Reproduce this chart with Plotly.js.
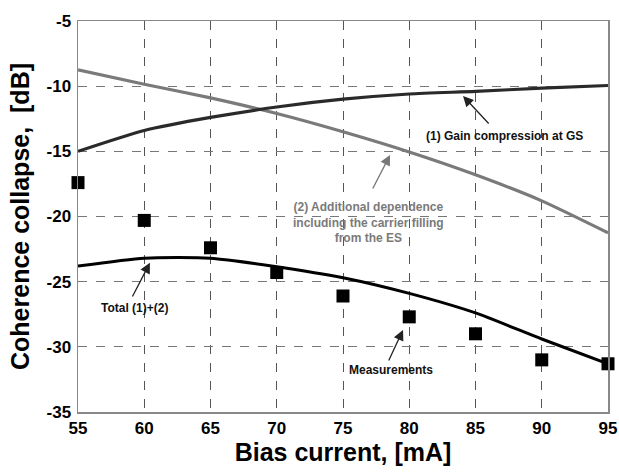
<!DOCTYPE html>
<html>
<head>
<meta charset="utf-8">
<script src="https://cdn.plot.ly/plotly-3.0.1.min.js"></script>
<style>html,body{margin:0;padding:0;background:#fff;}#chart{width:619px;height:472px;}</style>
</head>
<body>
<div id="chart"></div>
<script>
const biasCurrent = [55, 60, 65, 70, 75, 80, 85, 90, 95];
const measurements = [-17.4, -20.3, -22.4, -24.3, -26.1, -27.7, -29.0, -31.0, -31.3];
const gainCompression = [-15.0, -13.4, -12.4, -11.6, -11.0, -10.6, -10.4, -10.15, -9.95];
const carrierFilling = [-8.75, -9.85, -10.9, -12.1, -13.5, -15.05, -16.8, -18.8, -21.25];
const totalModel = [-23.8, -23.2, -23.2, -23.85, -24.7, -25.9, -27.4, -29.4, -31.3];
const xTicks = [55, 60, 65, 70, 75, 80, 85, 90, 95];
const yTicks = [-35, -30, -25, -20, -15, -10, -5];

const font = 'Liberation Sans, Arial, sans-serif';

const traces = [
  {x: biasCurrent, y: carrierFilling, mode: 'lines', line: {color: '#7a7a7a', width: 3.2, shape: 'spline', smoothing: 0.6}, name: '(2)', cliponaxis: false},
  {x: biasCurrent, y: gainCompression, mode: 'lines', line: {color: '#2a2a2a', width: 3.2, shape: 'spline', smoothing: 0.6}, name: '(1)', cliponaxis: false},
  {x: biasCurrent, y: totalModel, mode: 'lines', line: {color: '#000', width: 3, shape: 'spline', smoothing: 0.6}, name: 'Total', cliponaxis: false},
  {x: biasCurrent, y: measurements, mode: 'markers', marker: {symbol: 'square', size: 13, color: '#000'}, name: 'Measurements', cliponaxis: false}
];

function arrow(tipX, tipY, tailX, tailY, color) {
  return {x: tipX, y: tipY, ax: tailX, ay: tailY, axref: 'x', ayref: 'y', xref: 'x', yref: 'y',
    text: '', showarrow: true, arrowhead: 2, arrowsize: 1.6, arrowwidth: 1.3, arrowcolor: color};
}
function label(x, y, text, color) {
  return {x: x, y: y, xref: 'x', yref: 'y', text: '<b>' + text.split('<br>').join('</b><br><b>') + '</b>', showarrow: false,
    font: {family: font, size: 12, color: color}, align: 'center'};
}

const layout = {
  width: 619, height: 472,
  margin: {l: 78, r: 11, t: 21, b: 60},
  paper_bgcolor: '#fff', plot_bgcolor: '#fff',
  showlegend: false,
  font: {family: font, color: '#000'},
  xaxis: {
    range: [55, 95], tickvals: xTicks, ticktext: xTicks.map(v => '<b>' + v + '</b>'),
    showgrid: true, gridcolor: '#555', griddash: 'dash', gridwidth: 1,
    zeroline: false, showline: true, linecolor: '#888', linewidth: 1.5, mirror: true,
    ticks: '', tickfont: {family: font, size: 17, color: '#000'},
    title: {text: '<b>Bias current, [mA]</b>', font: {family: font, size: 25, color: '#000'}, standoff: 4}
  },
  yaxis: {
    range: [-35, -5], tickvals: yTicks, ticktext: yTicks.map(v => '<b>' + v + '</b>'),
    showgrid: true, gridcolor: '#777', griddash: 'dash', gridwidth: 1,
    zeroline: false, showline: true, linecolor: '#888', linewidth: 1.5, mirror: true,
    ticks: '', ticklabelstandoff: 2, tickfont: {family: font, size: 17, color: '#000'},
    title: {text: '<b>Coherence collapse,  [dB]</b>', font: {family: font, size: 25, color: '#000'}, standoff: 10}
  },
  annotations: [
    label(87.2, -13.85, '(1) Gain compression at GS', '#111'),
    arrow(84.06, -10.76, 86.1, -12.98, '#222'),
    label(76.9, -20.45, '(2) Additional dependence<br>including the carrier filling<br>from the ES', '#7a7a7a'),
    arrow(78.55, -15.28, 77.19, -17.97, '#777'),
    label(59.26, -27.03, 'Total (1)+(2)', '#111'),
    arrow(60.43, -23.55, 59.05, -26.25, '#222'),
    label(78.6, -31.8, 'Measurements', '#111'),
    arrow(79.53, -28.7, 78.4, -31.17, '#222')
  ]
};

Plotly.newPlot('chart', traces, layout, {displayModeBar: false, staticPlot: true});
</script>
</body>
</html>
